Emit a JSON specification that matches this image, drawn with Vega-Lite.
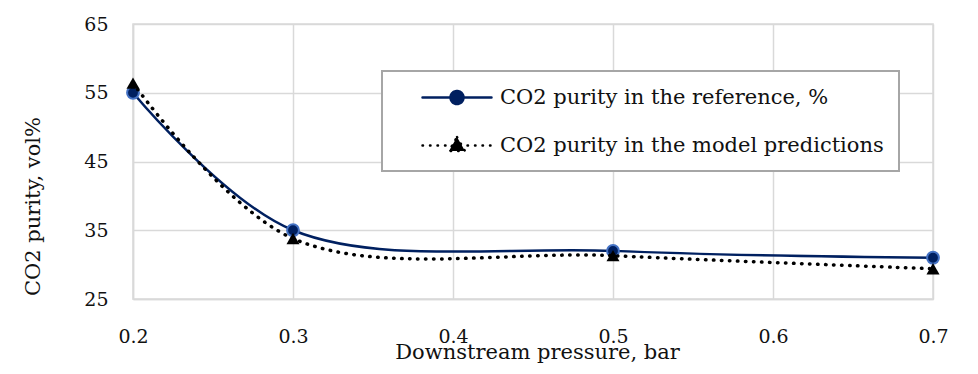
{
  "$schema": "https://vega.github.io/schema/vega-lite/v6.json",
  "width": 800,
  "height": 275,
  "autosize": {"type": "none"},
  "padding": {"left": 133, "top": 24, "right": 45, "bottom": 75},
  "background": "white",
  "config": {
    "font": "DejaVu Serif",
    "view": {"stroke": "#d9d9d9", "strokeWidth": 1.5},
    "axis": {
      "gridColor": "#d9d9d9",
      "gridWidth": 1.5,
      "domainColor": "#d9d9d9",
      "domainWidth": 1.5,
      "ticks": false,
      "labelFont": "DejaVu Serif",
      "labelFontSize": 19,
      "labelColor": "#111111",
      "titleFont": "DejaVu Serif",
      "titleFontSize": 21,
      "titleFontWeight": "normal",
      "titleColor": "#111111"
    }
  },
  "data": {
    "values": [
      {"pressure": 0.2, "purity": 55.0, "series": "CO2 purity in the reference, %"},
      {"pressure": 0.3, "purity": 35.0, "series": "CO2 purity in the reference, %"},
      {"pressure": 0.5, "purity": 32.0, "series": "CO2 purity in the reference, %"},
      {"pressure": 0.7, "purity": 31.0, "series": "CO2 purity in the reference, %"},
      {"pressure": 0.2, "purity": 56.4, "series": "CO2 purity in the model predictions"},
      {"pressure": 0.3, "purity": 33.8, "series": "CO2 purity in the model predictions"},
      {"pressure": 0.5, "purity": 31.3, "series": "CO2 purity in the model predictions"},
      {"pressure": 0.7, "purity": 29.4, "series": "CO2 purity in the model predictions"}
    ]
  },
  "encoding": {
    "x": {
      "field": "pressure",
      "type": "quantitative",
      "scale": {"domain": [0.2, 0.7], "nice": false, "zero": false},
      "axis": {
        "values": [0.2, 0.3, 0.4, 0.5, 0.6, 0.7],
        "format": ".1f",
        "title": "Downstream pressure, bar",
        "labelFlush": false,
        "labelOverlap": false,
        "labelBaseline": "alphabetic",
        "labelPadding": 43,
        "titleX": 404,
        "titleY": 59,
        "titleBaseline": "alphabetic",
        "titleAlign": "center"
      }
    },
    "y": {
      "field": "purity",
      "type": "quantitative",
      "scale": {"domain": [25, 65], "nice": false, "zero": false},
      "axis": {
        "values": [25, 35, 45, 55, 65],
        "title": "CO2 purity, vol%",
        "labelPadding": 25,
        "labelFlush": false,
        "titleX": -100,
        "titleY": 182,
        "titleBaseline": "middle",
        "titleAlign": "center",
        "titleAngle": -90
      }
    },
    "color": {
      "field": "series",
      "type": "nominal",
      "scale": {
        "domain": ["CO2 purity in the reference, %", "CO2 purity in the model predictions"],
        "range": ["#002060", "#000000"]
      },
      "legend": {
        "title": null,
        "orient": "none",
        "legendX": 249,
        "legendY": 47,
        "padding": 15,
        "rowPadding": 23,
        "symbolSize": 400,
        "symbolOffset": 48.5,
        "labelOffset": 31.5,
        "labelFont": "DejaVu Serif",
        "labelFontSize": 21,
        "labelColor": "#111111",
        "labelLimit": 600,
        "strokeColor": "#a6a6a6",
        "fillColor": "white",
        "encode": {
          "legend": {"update": {"strokeWidth": {"value": 2}}},
          "symbols": {
            "update": {
              "shape": {"signal": "datum.value === 'CO2 purity in the reference, %' ? 'M-3.45,0H3.45M0.65,0A0.65,0.65 0 1 1 -0.65,0A0.65,0.65 0 1 1 0.65,0' : 'M-3.45,0H3.45M0,-0.85L0.8,0.55L-0.8,0.55Z'"},
              "fill": {"signal": "datum.value === 'CO2 purity in the reference, %' ? '#002060' : '#000000'"},
              "stroke": {"signal": "datum.value === 'CO2 purity in the reference, %' ? '#002060' : '#000000'"},
              "strokeDash": {"signal": "datum.value === 'CO2 purity in the reference, %' ? [1, 0] : [0.5, 7]"},
              "strokeCap": {"value": "round"},
              "strokeWidth": {"value": 2.5},
              "opacity": {"value": 1},
              "fillOpacity": {"value": 1}
            }
          }
        }
      }
    }
  },
  "layer": [
    {
      "transform": [{"filter": "datum.series === 'CO2 purity in the reference, %'"}],
      "mark": {"type": "line", "interpolate": "catmull-rom", "strokeWidth": 2.5}
    },
    {
      "transform": [{"filter": "datum.series === 'CO2 purity in the reference, %'"}],
      "mark": {"type": "point", "shape": "circle", "filled": true, "size": 140, "stroke": "#4472c4", "strokeWidth": 2, "opacity": 1}
    },
    {
      "transform": [{"filter": "datum.series === 'CO2 purity in the model predictions'"}],
      "mark": {"type": "line", "interpolate": "catmull-rom", "strokeWidth": 3.5, "strokeDash": [0.5, 7.5], "strokeCap": "round"}
    },
    {
      "transform": [{"filter": "datum.series === 'CO2 purity in the model predictions'"}],
      "mark": {"type": "point", "shape": "triangle-up", "filled": true, "size": 170, "opacity": 1}
    }
  ]
}
